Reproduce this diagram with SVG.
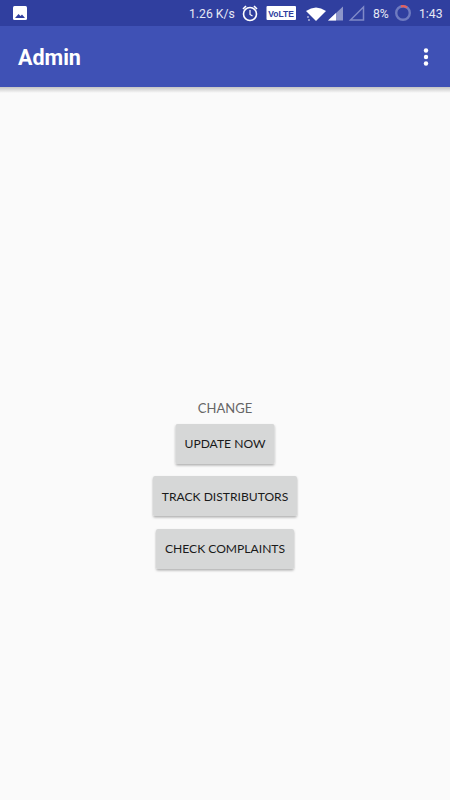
<svg xmlns="http://www.w3.org/2000/svg" width="450" height="800" viewBox="0 0 450 800">
<defs>
<linearGradient id="sh" x1="0" y1="0" x2="0" y2="1"><stop offset="0" stop-color="#000" stop-opacity=".22"/><stop offset="1" stop-color="#000" stop-opacity="0"/></linearGradient>
<filter id="bs" x="-10%" y="-10%" width="120%" height="130%"><feDropShadow dx="0" dy="1.5" stdDeviation="1.2" flood-color="#000" flood-opacity=".3"/></filter>
<filter id="soft" x="-5%" y="-5%" width="110%" height="110%"><feGaussianBlur stdDeviation=".3"/></filter>
</defs>
<style>
.s{font-family:"Roboto","Liberation Sans",sans-serif;fill:#e6e8f4;font-size:12.2px}
.b{fill:#d6d7d7;filter:url(#bs)}
.t{font-family:"Lato","Open Sans",sans-serif;font-size:12.1px;fill:#1a1a1a;text-anchor:middle}
</style>
<rect width="450" height="800" fill="#fafafa"/>
<g id="appbar">
<rect y="87" width="450" height="6" fill="url(#sh)"/>
<rect y="26" width="450" height="61" fill="#3f51b5"/>
<text x="18" y="64.500" font-family="Roboto,'Liberation Sans',sans-serif" font-weight="700" font-size="21.500" fill="#fff">Admin</text>
<circle cx="426" cy="50.500" r="2.200" fill="#fff"/><circle cx="426" cy="57" r="2.200" fill="#fff"/><circle cx="426" cy="63.500" r="2.200" fill="#fff"/>
</g>
<g id="statusbar">
<rect width="450" height="26" fill="#303f9f"/>
<rect x="13" y="6" width="14" height="14" rx="1.500" fill="#fff"/>
<path d="M15 18l3.500-4 2 2 1.500-1.500 3 3.500z" fill="#303f9f"/>
<text class="s" x="189" y="18">1.26 K/s</text>
<g filter="url(#soft)">
<circle cx="250" cy="14" r="6.500" fill="none" stroke="#fff" stroke-width="1.600"/>
<path d="M250 10v4.500l2.500 1.500" fill="none" stroke="#fff" stroke-width="1.200"/>
<path d="M243 9l3-3M257 9l-3-3" stroke="#fff" stroke-width="1.600"/>
<rect x="266.500" y="6" width="29.500" height="14" rx="1" fill="#fff"/>
<path d="M306 11q10-7 20 0l-10 10z" fill="#fff"/>
<circle cx="308" cy="17" r=".8" fill="#fff"/><circle cx="309" cy="20" r=".8" fill="#fff"/>
<path d="M328 20.500l15-14v14z" fill="#fff" fill-opacity=".45"/>
<path d="M328 20.500l8-7.500v7.500z" fill="#fff"/>
<path d="M350.500 20l13-13v13z" fill="none" stroke="#7f89c8" stroke-width="1.500"/>
</g>
<text x="281" y="16.500" font-family="'Liberation Sans',sans-serif" font-weight="700" font-size="8.500" fill="#303f9f" text-anchor="middle">VoLTE</text>
<text class="s" x="373" y="18">8%</text>
<circle cx="403" cy="13" r="6.800" fill="none" stroke="#6f7bc0" stroke-width="2.400"/>
<path d="M401 6.500a6.800 6.800 0 0 1 6 1" fill="none" stroke="#e4605e" stroke-width="2.400"/>
<text class="s" x="419" y="18">1:43</text>
</g>
<g id="label-change"><text x="225" y="413" font-family="Lato,'Open Sans',sans-serif" font-size="13" fill="#666" text-anchor="middle">CHANGE</text></g>
<g id="btn-update"><rect class="b" x="175.500" y="424" width="99" height="40" rx="2"/><text class="t" x="225" y="448">UPDATE NOW</text></g>
<g id="btn-track"><rect class="b" x="153" y="476" width="144" height="40" rx="2"/><text class="t" x="225" y="501">TRACK DISTRIBUTORS</text></g>
<g id="btn-check"><rect class="b" x="156" y="529" width="138" height="40" rx="2"/><text class="t" x="225" y="553">CHECK COMPLAINTS</text></g>
<g id="connectors"/>
</svg>
